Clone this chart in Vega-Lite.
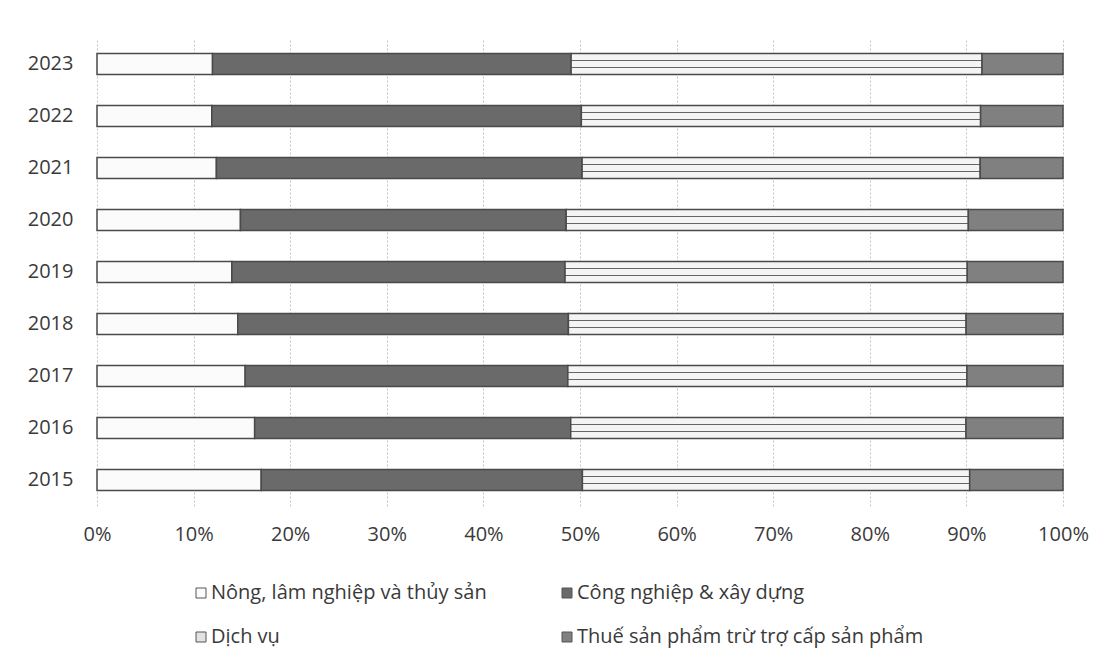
{
  "$schema": "https://vega.github.io/schema/vega-lite/v6.json",
  "autosize": "none",
  "width": 966,
  "height": 468,
  "padding": {"left": 97, "top": 38, "right": 42, "bottom": 158},
  "background": "white",
  "config": {
    "font": "Open Sans",
    "view": {"stroke": null}
  },
  "datasets": {
    "gdp": [
      {"year": "2015", "sector_order": 1, "sector": "Nông, lâm nghiệp và thủy sản", "share": 17.00},
      {"year": "2015", "sector_order": 2, "sector": "Công nghiệp & xây dựng", "share": 33.25},
      {"year": "2015", "sector_order": 3, "sector": "Dịch vụ", "share": 40.09},
      {"year": "2015", "sector_order": 4, "sector": "Thuế sản phẩm trừ trợ cấp sản phẩm", "share": 9.66},
      {"year": "2016", "sector_order": 1, "sector": "Nông, lâm nghiệp và thủy sản", "share": 16.32},
      {"year": "2016", "sector_order": 2, "sector": "Công nghiệp & xây dựng", "share": 32.72},
      {"year": "2016", "sector_order": 3, "sector": "Dịch vụ", "share": 40.92},
      {"year": "2016", "sector_order": 4, "sector": "Thuế sản phẩm trừ trợ cấp sản phẩm", "share": 10.04},
      {"year": "2017", "sector_order": 1, "sector": "Nông, lâm nghiệp và thủy sản", "share": 15.34},
      {"year": "2017", "sector_order": 2, "sector": "Công nghiệp & xây dựng", "share": 33.40},
      {"year": "2017", "sector_order": 3, "sector": "Dịch vụ", "share": 41.32},
      {"year": "2017", "sector_order": 4, "sector": "Thuế sản phẩm trừ trợ cấp sản phẩm", "share": 9.94},
      {"year": "2018", "sector_order": 1, "sector": "Nông, lâm nghiệp và thủy sản", "share": 14.57},
      {"year": "2018", "sector_order": 2, "sector": "Công nghiệp & xây dựng", "share": 34.23},
      {"year": "2018", "sector_order": 3, "sector": "Dịch vụ", "share": 41.17},
      {"year": "2018", "sector_order": 4, "sector": "Thuế sản phẩm trừ trợ cấp sản phẩm", "share": 10.03},
      {"year": "2019", "sector_order": 1, "sector": "Nông, lâm nghiệp và thủy sản", "share": 13.96},
      {"year": "2019", "sector_order": 2, "sector": "Công nghiệp & xây dựng", "share": 34.49},
      {"year": "2019", "sector_order": 3, "sector": "Dịch vụ", "share": 41.64},
      {"year": "2019", "sector_order": 4, "sector": "Thuế sản phẩm trừ trợ cấp sản phẩm", "share": 9.91},
      {"year": "2020", "sector_order": 1, "sector": "Nông, lâm nghiệp và thủy sản", "share": 14.85},
      {"year": "2020", "sector_order": 2, "sector": "Công nghiệp & xây dựng", "share": 33.72},
      {"year": "2020", "sector_order": 3, "sector": "Dịch vụ", "share": 41.63},
      {"year": "2020", "sector_order": 4, "sector": "Thuế sản phẩm trừ trợ cấp sản phẩm", "share": 9.80},
      {"year": "2021", "sector_order": 1, "sector": "Nông, lâm nghiệp và thủy sản", "share": 12.36},
      {"year": "2021", "sector_order": 2, "sector": "Công nghiệp & xây dựng", "share": 37.86},
      {"year": "2021", "sector_order": 3, "sector": "Dịch vụ", "share": 41.21},
      {"year": "2021", "sector_order": 4, "sector": "Thuế sản phẩm trừ trợ cấp sản phẩm", "share": 8.57},
      {"year": "2022", "sector_order": 1, "sector": "Nông, lâm nghiệp và thủy sản", "share": 11.88},
      {"year": "2022", "sector_order": 2, "sector": "Công nghiệp & xây dựng", "share": 38.26},
      {"year": "2022", "sector_order": 3, "sector": "Dịch vụ", "share": 41.33},
      {"year": "2022", "sector_order": 4, "sector": "Thuế sản phẩm trừ trợ cấp sản phẩm", "share": 8.53},
      {"year": "2023", "sector_order": 1, "sector": "Nông, lâm nghiệp và thủy sản", "share": 11.96},
      {"year": "2023", "sector_order": 2, "sector": "Công nghiệp & xây dựng", "share": 37.12},
      {"year": "2023", "sector_order": 3, "sector": "Dịch vụ", "share": 42.54},
      {"year": "2023", "sector_order": 4, "sector": "Thuế sản phẩm trừ trợ cấp sản phẩm", "share": 8.38}
    ]
  },
  "data": {"name": "gdp"},
  "mark": {"type": "bar", "stroke": "#4a4a4a", "strokeWidth": 1.5},
  "encoding": {
    "y": {
      "field": "year",
      "type": "ordinal",
      "sort": "descending",
      "scale": {"paddingInner": 0.6, "paddingOuter": 0.3},
      "axis": {
        "title": null,
        "domain": false,
        "ticks": false,
        "labelPadding": 24,
        "labelFontSize": 20,
        "labelColor": "#3a3a3a"
      }
    },
    "x": {
      "field": "share",
      "type": "quantitative",
      "stack": "normalize",
      "scale": {"domain": [0, 1], "nice": false},
      "axis": {
        "title": null,
        "format": ".0%",
        "values": [0, 0.1, 0.2, 0.3, 0.4, 0.5, 0.6, 0.7, 0.8, 0.9, 1],
        "domain": false,
        "ticks": false,
        "grid": true,
        "gridColor": "#c4c4c4",
        "gridDash": [2, 2],
        "labelFlush": false,
        "labelPadding": 18,
        "labelFontSize": 20,
        "labelColor": "#3a3a3a"
      }
    },
    "order": {"field": "sector_order", "type": "quantitative", "sort": "ascending"},
    "color": {
      "condition": {
        "test": "datum.sector === 'Dịch vụ'",
        "value": {
          "gradient": "linear",
          "x1": 0, "y1": 0, "x2": 0, "y2": 1,
          "stops": [
            {"offset": 0, "color": "#f4f4f4"},
            {"offset": 0.31, "color": "#f4f4f4"},
            {"offset": 0.32, "color": "#666666"},
            {"offset": 0.36, "color": "#666666"},
            {"offset": 0.37, "color": "#f4f4f4"},
            {"offset": 0.63, "color": "#f4f4f4"},
            {"offset": 0.64, "color": "#666666"},
            {"offset": 0.68, "color": "#666666"},
            {"offset": 0.69, "color": "#f4f4f4"},
            {"offset": 1, "color": "#f4f4f4"}
          ]
        }
      },
      "field": "sector",
      "type": "nominal",
      "sort": ["Nông, lâm nghiệp và thủy sản", "Công nghiệp & xây dựng", "Dịch vụ", "Thuế sản phẩm trừ trợ cấp sản phẩm"],
      "scale": {
        "domain": ["Nông, lâm nghiệp và thủy sản", "Công nghiệp & xây dựng", "Dịch vụ", "Thuế sản phẩm trừ trợ cấp sản phẩm"],
        "range": ["#fbfbfb", "#6a6a6a", "#e2e2e2", "#808080"]
      },
      "legend": {
        "title": null,
        "orient": "none",
        "legendX": 94,
        "legendY": 545,
        "direction": "horizontal",
        "columns": 2,
        "columnPadding": 70,
        "rowPadding": 24,
        "symbolType": "square",
        "symbolSize": 100,
        "symbolStrokeColor": "#555555",
        "symbolStrokeWidth": 1,
        "symbolOpacity": 1,
        "labelFontSize": 20,
        "labelColor": "#3a3a3a",
        "labelOffset": 0,
        "labelLimit": 400
      }
    }
  }
}
